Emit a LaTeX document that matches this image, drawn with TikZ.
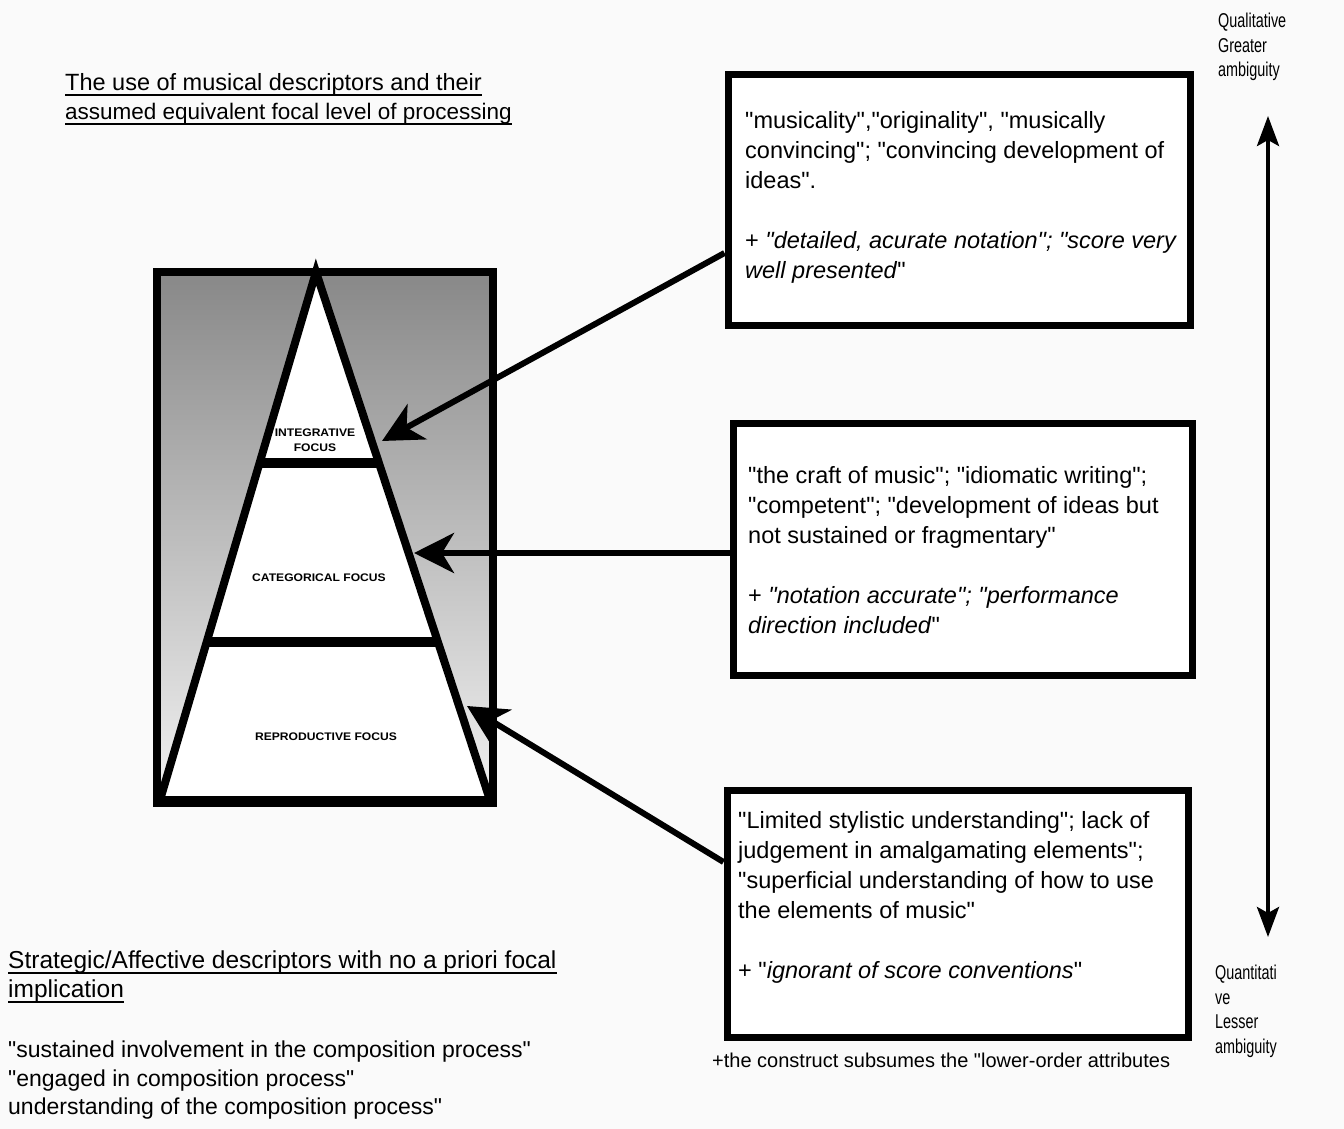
\documentclass[tikz,border=0pt]{standalone}
\usepackage{fontspec}
\setmainfont{Liberation Sans}[Ligatures=TeXOff]
\newfontfamily\narrowfont{Liberation Sans}[FakeStretch=0.72, Ligatures=TeXOff]
\newfontfamily\tagfont{Liberation Sans}[FakeStretch=1.1, Ligatures=TeXOff]
\usetikzlibrary{arrows.meta,calc}
\definecolor{paper}{RGB}{250,250,250}
\definecolor{shadetop}{RGB}{136,136,136}
\definecolor{shadebot}{RGB}{242,242,242}
\tikzset{
  descbox/.style={draw, line width=7pt, fill=white, inner sep=0pt},
  desctext/.style={anchor=north west, inner sep=0pt, align=left,
    font=\fontsize{23.5}{30}\selectfont},
  plaintext/.style={anchor=north west, inner sep=0pt, align=left,
    font=\fontsize{24}{28.5}\selectfont},
  headline/.style={anchor=base west, inner sep=0pt},
  sidetext/.style={anchor=north west, inner sep=0pt, align=left,
    font=\narrowfont\fontsize{20}{24.5}\selectfont},
  leveltag/.style={inner sep=0pt, align=center,
    font=\tagfont\bfseries\fontsize{11}{15}\selectfont},
  pointer/.style={line width=6pt, -{Stealth[length=40pt,width=40pt,inset=12pt]}},
  scale arrow/.style={line width=4pt, {Stealth[length=30pt,width=22pt,inset=6pt]}-{Stealth[length=30pt,width=22pt,inset=6pt]}},
  rule/.style={line width=2pt}
}
\newcommand\underrule[1]{\draw[rule] ([yshift=-4.5pt]#1.base west) -- ([yshift=-4.5pt]#1.base east);}
\begin{document}
\begin{tikzpicture}[x=1pt,y=-1pt]
\useasboundingbox (0,0) rectangle (1344,1129);
\fill[paper] (0,0) rectangle (1344,1129);

% heading, underlined
\node[headline, font=\fontsize{23.5}{28.5}\selectfont] (headA) at (65,91) {The use of musical descriptors and their};
\node[headline, font=\fontsize{22.5}{28.5}\selectfont] (headB) at (65,120) {assumed equivalent focal level of processing};
\underrule{headA}
\underrule{headB}

% shaded frame holding the pyramid
\draw[line width=8pt, top color=shadetop, bottom color=shadebot] (157,272) rectangle (493,803);

\coordinate (apex) at (316,272);
\coordinate (bl) at (160,800);
\coordinate (br) at (490,800);
\fill[white] (apex) -- (bl) -- (br) -- cycle;
\draw[line width=8pt, line join=miter] (apex) -- (bl) -- (br) -- cycle;
\draw[line width=10pt] ($(apex)!0.3617!(bl)$) -- ($(apex)!0.3617!(br)$);
\draw[line width=10pt] ($(apex)!0.7008!(bl)$) -- ($(apex)!0.7008!(br)$);

\node[leveltag] (integ) at (315,440) {INTEGRATIVE\\FOCUS};
\node[leveltag] (categ) at (319,578) {CATEGORICAL FOCUS};
\node[leveltag] (repro) at (326,737) {REPRODUCTIVE FOCUS};

% descriptor boxes
\node[descbox, minimum width=462pt, minimum height=250pt] (box1) at (959,200) {};
\node[descbox, minimum width=459pt, minimum height=252pt] (box2) at (962.5,549) {};
\node[descbox, minimum width=461pt, minimum height=247pt] (box3) at (957.5,913.5) {};

\node[desctext] (t1) at (745,111) {"musicality","originality", "musically\\convincing"; "convincing development of\\ideas".\\[30pt]+ \textit{"detailed, acurate notation"; "score very}\\\textit{well presented}"};
\node[desctext] (t2) at (748,466) {"the craft of music"; "idiomatic writing";\\"competent"; "development of ideas but\\not sustained or fragmentary"\\[30pt]+ \textit{"notation accurate"; "performance}\\\textit{direction included}"};
\node[desctext] (t3) at (738,811) {"Limited stylistic understanding"; lack of\\judgement in amalgamating elements";\\"superficial understanding of how to use\\the elements of music"\\[30pt]+ "\textit{ignorant of score conventions}"};

\node[anchor=north west, inner sep=0pt, font=\fontsize{20}{24}\selectfont] (note) at (712,1053) {+the construct subsumes the "lower-order attributes};

% pointers from each box to its level
\coordinate (tip1) at (382,441);
\coordinate (tip2) at (414,553);
\coordinate (tip3) at (467,706);
\draw[pointer] ([yshift=-53pt]box1.west) -- (tip1);
\draw[pointer] ([yshift=-4pt]box2.west) -- (tip2);
\draw[pointer] ([yshift=51.5pt]box3.west) -- (tip3);

% ambiguity scale
\node[sidetext] (qual) at (1218,13) {Qualitative\\Greater\\ambiguity};
\node[sidetext] (quant) at (1215,965) {Quantitati\\ve\\Lesser\\ambiguity};
\coordinate (scaletop) at (1268,116);
\coordinate (scalebot) at (1268,937);
\draw[scale arrow] (scaletop) -- (scalebot);

% strategic / affective descriptors
\node[headline, font=\fontsize{24.5}{28.5}\selectfont] (stratA) at (8,968) {Strategic/Affective descriptors with no a priori focal};
\node[headline, font=\fontsize{24.5}{28.5}\selectfont] (stratB) at (8,997) {implication};
\underrule{stratA}
\underrule{stratB}
\node[plaintext, font=\fontsize{23}{28.5}\selectfont] (quotes) at (8,1041) {"sustained involvement in the composition process"\\"engaged in composition process"\\understanding of the composition process"};
\end{tikzpicture}
\end{document}
